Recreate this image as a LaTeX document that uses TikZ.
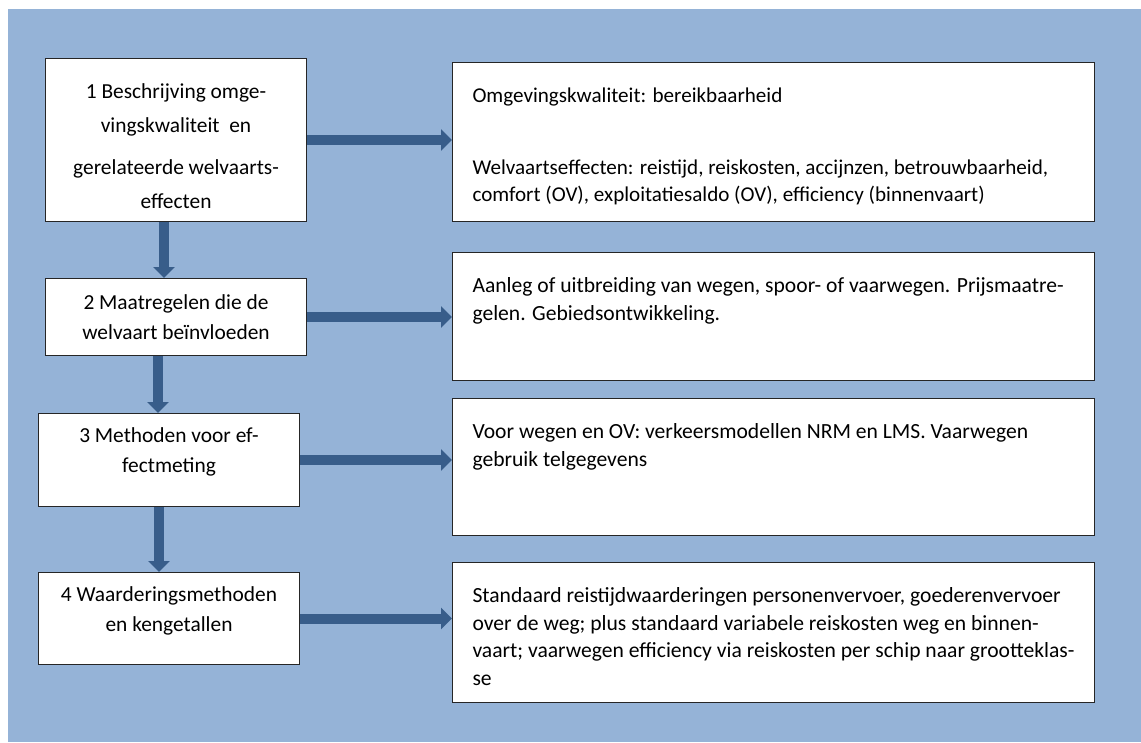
\documentclass[tikz,border=0pt]{standalone}
\usepackage{fontspec}
\setmainfont{Carlito}
\usetikzlibrary{arrows.meta}
\definecolor{bgblue}{HTML}{95B3D7}
\definecolor{arrowblue}{HTML}{385D8A}
\newcommand{\kadertekst}[2]{\parbox[c][#1][t]{642pt}{\raggedright\leftskip=20pt\vspace{25pt}#2}}

\begin{document}
\begin{tikzpicture}[x=1pt,y=-1pt,
    stap/.style={draw=black!85,line width=1pt,fill=white,inner sep=0pt,anchor=north west,
      minimum width=261pt,align=center,font=\fontsize{21.4}{30}\selectfont},
    kader/.style={draw=black!85,line width=1pt,fill=white,inner sep=0pt,
      anchor=north west,font=\fontsize{21.6}{27.6}\selectfont},
    pijl/.style={draw=arrowblue,line width=10pt,-{Triangle[width=21pt,length=11pt]}}]
        \useasboundingbox (0,0) rectangle (1141,742);
        \fill[bgblue] (8,9) rectangle (1141,742);
        % stappen links
        \node[stap,minimum height=163pt,font=\fontsize{21.4}{34}\selectfont] (b1) at (45,58)
          {\mbox{}\\[-6pt]1 Beschrijving omge-\\vingskwaliteit~ en\\[8pt]gerelateerde welvaarts-\\effecten};
        \node[stap,minimum height=77pt] (b2) at (45,278) {2 Maatregelen die de\\welvaart beïnvloeden};
        \node[stap,minimum height=93pt] (b3) at (38,413) {3 Methoden voor ef-\\fectmeting\\[-11pt]\mbox{}};
        \node[stap,minimum height=92pt] (b4) at (38,572) {4 Waarderingsmethoden\\en kengetallen\\[-11pt]\mbox{}};
        % kaders rechts
        \node[kader,font=\fontsize{21.1}{27.2}\selectfont] (r1) at (452,62) {\kadertekst{159pt}{Omgevingskwaliteit: bereikbaarheid\\[45pt]
          Welvaartseffecten: reistijd, reiskosten, accijnzen, betrouwbaarheid,\\
          comfort (OV), exploitatiesaldo (OV), efficiency (binnenvaart)}};
        \node[kader] (r2) at (452,252) {\kadertekst{128pt}{Aanleg of uitbreiding van wegen, spoor- of vaarwegen. Prijsmaatre-\\
          gelen. Gebiedsontwikkeling.}};
        \node[kader] (r3) at (452,398) {\kadertekst{137pt}{Voor wegen en OV: verkeersmodellen NRM en LMS. Vaarwegen\\
          gebruik telgegevens}};
        \node[kader] (r4) at (452,562) {\kadertekst{140pt}{Standaard reistijdwaarderingen personenvervoer, goederenvervoer\\
          over de weg; plus standaard variabele reiskosten weg en binnen-\\
          vaart; vaarwegen efficiency via reiskosten per schip naar grootteklas-\\
          se}};
        % pijlen
        \draw[pijl] (b1.east) -- (b1.east -| r1.west);
        \draw[pijl] (b2.east) -- (b2.east -| r2.west);
        \draw[pijl] (b3.east) -- (b3.east -| r3.west);
        \draw[pijl] (b4.east) -- (b4.east -| r4.west);
        \draw[pijl] ([xshift=-12pt]b1.south) -- ([xshift=-12pt]b2.north);
        \draw[pijl] ([xshift=-18pt]b2.south) -- ([xshift=-18pt]b2.south |- b3.north);
        \draw[pijl] ([xshift=-10pt]b3.south) -- ([xshift=-10pt]b4.north);
      \end{tikzpicture}
\end{document}
